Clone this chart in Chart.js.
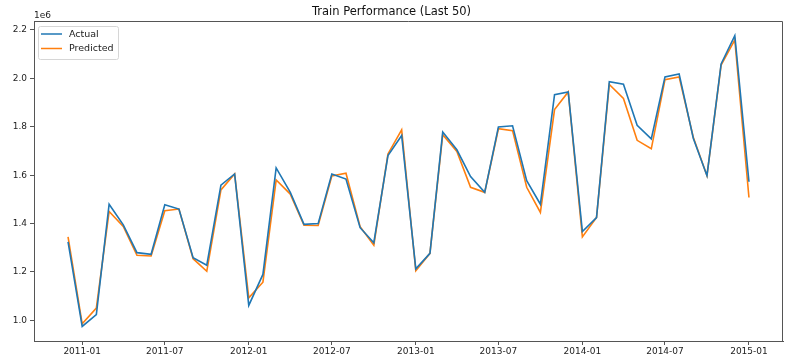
<!DOCTYPE html>
<html>
<head>
<meta charset="utf-8">
<script src="https://cdn.jsdelivr.net/npm/chart.js@4"></script>
<style>
  html, body { margin: 0; padding: 0; background: #fff; }
  #wrap { width: 798px; height: 358px; }
</style>
</head>
<body>
<div id="wrap"><canvas id="chart" width="798" height="358"></canvas></div>
<script>
"use strict";

// monthly points, first of month
const months = [
  "2010-12", "2011-01", "2011-02", "2011-03", "2011-04", "2011-05", "2011-06", "2011-07",
  "2011-08", "2011-09", "2011-10", "2011-11", "2011-12", "2012-01", "2012-02", "2012-03",
  "2012-04", "2012-05", "2012-06", "2012-07", "2012-08", "2012-09", "2012-10", "2012-11",
  "2012-12", "2013-01", "2013-02", "2013-03", "2013-04", "2013-05", "2013-06", "2013-07",
  "2013-08", "2013-09", "2013-10", "2013-11", "2013-12", "2014-01", "2014-02", "2014-03",
  "2014-04", "2014-05", "2014-06", "2014-07", "2014-08", "2014-09", "2014-10", "2014-11",
  "2014-12", "2015-01"
];

const actual = [
  1324000, 975000, 1024000, 1480000, 1395000, 1280000, 1273000, 1478000,
  1460000, 1259000, 1228000, 1559000, 1605000, 1062000, 1190000, 1630000,
  1529000, 1397000, 1400000, 1605000, 1584000, 1383000, 1321000, 1681000,
  1764000, 1213000, 1277000, 1778000, 1705000, 1594000, 1529000, 1799000,
  1804000, 1577000, 1480000, 1933000, 1944000, 1367000, 1425000, 1986000,
  1976000, 1806000, 1750000, 2006000, 2018000, 1753000, 1598000, 2060000,
  2177000, 1573000
];

const predicted = [
  1345000, 986000, 1051000, 1450000, 1388000, 1269000, 1266000, 1453000,
  1460000, 1255000, 1203000, 1539000, 1605000, 1093000, 1158000, 1580000,
  1522000, 1393000, 1392000, 1597000, 1608000, 1387000, 1311000, 1688000,
  1787000, 1205000, 1277000, 1767000, 1698000, 1550000, 1529000, 1792000,
  1784000, 1550000, 1446000, 1871000, 1944000, 1345000, 1425000, 1975000,
  1917000, 1744000, 1709000, 1995000, 2006000, 1757000, 1598000, 2055000,
  2159000, 1508000
];

const xTickLabels = ["2011-01", "2011-07", "2012-01", "2012-07", "2013-01",
  "2013-07", "2014-01", "2014-07", "2015-01"];
const yTicks = [1000000, 1200000, 1400000, 1600000, 1800000, 2000000, 2200000];

function monthToTime(s) {
  const [y, m] = s.split("-").map(Number);
  return Date.UTC(y, m - 1, 1);
}

function fmtMonth(t) {
  const d = new Date(t);
  return d.getUTCFullYear() + "-" + String(d.getUTCMonth() + 1).padStart(2, "0");
}

const t0 = monthToTime(months[0]);
const t1 = monthToTime(months[months.length - 1]);
const xPad = (t1 - t0) * 0.05;

const yMinData = Math.min(...actual, ...predicted);
const yMaxData = Math.max(...actual, ...predicted);
const yPad = (yMaxData - yMinData) * 0.05;

const BLUE = "#1f77b4";
const ORANGE = "#ff7f0e";
const FONT = "'DejaVu Sans', sans-serif";

// top/right spines, 1e6 offset label and the legend box
const mplExtras = {
  id: "mplExtras",
  afterDraw(chart) {
    const ctx = chart.ctx;
    const a = chart.chartArea;
    ctx.save();
    ctx.strokeStyle = "#555";
    ctx.lineWidth = 1;
    ctx.beginPath();
    ctx.moveTo(a.left, a.top + 0.5);
    ctx.lineTo(a.right - 0.5, a.top + 0.5);
    ctx.lineTo(a.right - 0.5, a.bottom);
    ctx.stroke();

    ctx.fillStyle = "#222";
    ctx.font = "9px " + FONT;
    ctx.textAlign = "left";
    ctx.textBaseline = "alphabetic";
    ctx.fillText("1e6", a.left, a.top - 3);

    // legend
    const bx = a.left + 4, by = a.top + 5, bw = 80, bh = 33;
    ctx.beginPath();
    ctx.roundRect(bx + 0.5, by + 0.5, bw, bh, 2);
    ctx.fillStyle = "rgba(255,255,255,0.85)";
    ctx.fill();
    ctx.strokeStyle = "#d6d6d6";
    ctx.stroke();
    ctx.font = "9.5px " + FONT;
    ctx.textBaseline = "middle";
    chart.data.datasets.forEach((ds, i) => {
      const yy = by + 8 + i * 14.5;
      ctx.strokeStyle = ds.borderColor;
      ctx.lineWidth = 1.5;
      ctx.beginPath();
      ctx.moveTo(bx + 3, yy);
      ctx.lineTo(bx + 24, yy);
      ctx.stroke();
      ctx.fillStyle = "#222";
      ctx.fillText(ds.label, bx + 31, yy + 0.5);
    });
    ctx.restore();
  }
};

const ctx = document.getElementById("chart").getContext("2d");
new Chart(ctx, {
  type: "line",
  data: {
    datasets: [
      {
        label: "Actual",
        data: months.map((m, i) => ({ x: monthToTime(m), y: actual[i] })),
        borderColor: BLUE,
        backgroundColor: BLUE,
        borderWidth: 1.6,
        pointRadius: 0,
        tension: 0
      },
      {
        label: "Predicted",
        data: months.map((m, i) => ({ x: monthToTime(m), y: predicted[i] })),
        borderColor: ORANGE,
        backgroundColor: ORANGE,
        borderWidth: 1.6,
        pointRadius: 0,
        tension: 0
      }
    ]
  },
  options: {
    responsive: false,
    animation: false,
    events: [],
    layout: { padding: { left: 0, right: 15, top: 0, bottom: 0 } },
    plugins: {
      legend: { display: false },
      tooltip: { enabled: false },
      title: {
        display: true,
        text: "Train Performance (Last 50)",
        color: "#111",
        font: { family: FONT, size: 11.5, weight: "normal" },
        padding: { top: 5.5, bottom: 1.7 }
      }
    },
    scales: {
      x: {
        type: "linear",
        min: t0 - xPad,
        max: t1 + xPad,
        afterBuildTicks(scale) {
          scale.ticks = xTickLabels.map(s => ({ value: monthToTime(s) }));
        },
        afterFit(scale) { scale.height = 17; },
        ticks: {
          color: "#222",
          font: { family: FONT, size: 9 },
          padding: 1,
          maxRotation: 0,
          autoSkip: false,
          callback: (v) => fmtMonth(v)
        },
        grid: { drawOnChartArea: false, drawTicks: true, tickLength: 4, tickColor: "#555" },
        border: { display: true, color: "#555", width: 1 }
      },
      y: {
        min: yMinData - yPad,
        max: yMaxData + yPad,
        afterBuildTicks(scale) {
          scale.ticks = yTicks.map(v => ({ value: v }));
        },
        afterFit(scale) { scale.width = 34; },
        ticks: {
          color: "#222",
          font: { family: FONT, size: 9 },
          padding: 3,
          callback: (v) => (v / 1e6).toFixed(1)
        },
        grid: { drawOnChartArea: false, drawTicks: true, tickLength: 4, tickColor: "#555" },
        border: { display: true, color: "#555", width: 1 }
      }
    }
  },
  plugins: [mplExtras]
});
</script>
</body>
</html>
